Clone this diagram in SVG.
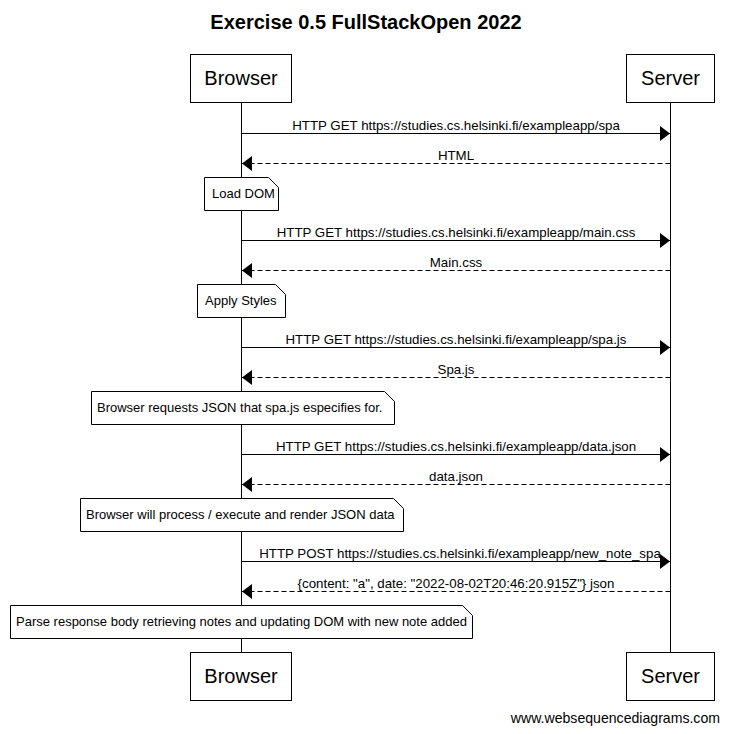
<svg xmlns="http://www.w3.org/2000/svg" width="729" height="734" viewBox="0 0 729 734">
<style>
text{font-family:"Liberation Sans",Arial,sans-serif;fill:#000}
.title{font-size:20px;font-weight:bold;text-anchor:middle}
.part{font-size:20px;text-anchor:middle}
.msg{font-size:13.3px;text-anchor:middle}
.nt{font-size:13px}
.foot{font-size:14.1px;text-anchor:end}
.box{fill:#fff;stroke:#000;stroke-width:1}
.life{stroke:#000;stroke-width:1}
.note{fill:#fff;stroke:#000;stroke-width:1}
.ln{stroke:#000;stroke-width:1;fill:none}
.dash{stroke-dasharray:5,3}
</style>
<defs>
<marker id="ah" markerWidth="10" markerHeight="15" refX="10" refY="7.5" orient="auto" markerUnits="userSpaceOnUse">
<path d="M0,0 L10,7.5 L0,15 Z" fill="#000"/>
</marker>
</defs>
<rect width="729" height="734" fill="#fff"/>
<text class="title" x="366" y="29">Exercise 0.5 FullStackOpen 2022</text>
<g id="lifelines">
<line class="life" x1="241.5" y1="103" x2="241.5" y2="652"/>
<line class="life" x1="670.5" y1="103" x2="670.5" y2="652"/>
</g>
<g id="browser">
<rect class="box" x="190.5" y="54.5" width="101" height="48"/>
<text class="part" x="241" y="85">Browser</text>
<rect class="box" x="190.5" y="652.5" width="101" height="48"/>
<text class="part" x="241" y="683">Browser</text>
</g>
<g id="server">
<rect class="box" x="626.5" y="54.5" width="88" height="48"/>
<text class="part" x="670.5" y="85">Server</text>
<rect class="box" x="626.5" y="652.5" width="88" height="48"/>
<text class="part" x="670.5" y="683">Server</text>
</g>
<g id="connectors">
<line class="ln" x1="241.5" y1="133.5" x2="670" y2="133.5" marker-end="url(#ah)"/>
<text class="msg" x="456" y="129.5">HTTP GET https://studies.cs.helsinki.fi/exampleapp/spa</text>
<line class="ln dash" x1="670.5" y1="163.5" x2="242" y2="163.5" marker-end="url(#ah)"/>
<text class="msg" x="456" y="159.5">HTML</text>
<line class="ln" x1="241.5" y1="240.5" x2="670" y2="240.5" marker-end="url(#ah)"/>
<text class="msg" x="456" y="236.5">HTTP GET https://studies.cs.helsinki.fi/exampleapp/main.css</text>
<line class="ln dash" x1="670.5" y1="270.5" x2="242" y2="270.5" marker-end="url(#ah)"/>
<text class="msg" x="456" y="266.5">Main.css</text>
<line class="ln" x1="241.5" y1="347.5" x2="670" y2="347.5" marker-end="url(#ah)"/>
<text class="msg" x="456" y="343.5">HTTP GET https://studies.cs.helsinki.fi/exampleapp/spa.js</text>
<line class="ln dash" x1="670.5" y1="377.5" x2="242" y2="377.5" marker-end="url(#ah)"/>
<text class="msg" x="456" y="373.5">Spa.js</text>
<line class="ln" x1="241.5" y1="454.5" x2="670" y2="454.5" marker-end="url(#ah)"/>
<text class="msg" x="456" y="450.5">HTTP GET https://studies.cs.helsinki.fi/exampleapp/data.json</text>
<line class="ln dash" x1="670.5" y1="484.5" x2="242" y2="484.5" marker-end="url(#ah)"/>
<text class="msg" x="456" y="480.5">data.json</text>
<line class="ln" x1="241.5" y1="561.5" x2="670" y2="561.5" marker-end="url(#ah)"/>
<text class="msg" x="460" y="557.5">HTTP POST https://studies.cs.helsinki.fi/exampleapp/new_note_spa</text>
<line class="ln dash" x1="670.5" y1="591.5" x2="242" y2="591.5" marker-end="url(#ah)"/>
<text class="msg" x="456" y="587.5">{content: "a", date: "2022-08-02T20:46:20.915Z"} json</text>
</g>
<g id="note1">
<path class="note" d="M204.5,177.5 H268.5 L278.5,187.5 V210.5 H204.5 Z"/>
<text class="nt" x="212" y="198">Load DOM</text>
</g>
<g id="note2">
<path class="note" d="M197.5,284.5 H275.5 L285.5,294.5 V317.5 H197.5 Z"/>
<text class="nt" x="205" y="305">Apply Styles</text>
</g>
<g id="note3">
<path class="note" d="M91.5,391.5 H384.5 L394.5,401.5 V424.5 H91.5 Z"/>
<text class="nt" x="97" y="412">Browser requests JSON that spa.js especifies for.</text>
</g>
<g id="note4">
<path class="note" d="M80.5,498.5 H393.5 L403.5,508.5 V531.5 H80.5 Z"/>
<text class="nt" x="86" y="519">Browser will process / execute and render JSON data</text>
</g>
<g id="note5">
<path class="note" d="M10.5,605.5 H462.5 L472.5,615.5 V638.5 H10.5 Z"/>
<text class="nt" x="16" y="626">Parse response body retrieving notes and updating DOM with new note added</text>
</g>
<text class="foot" x="720" y="723">www.websequencediagrams.com</text>
</svg>
